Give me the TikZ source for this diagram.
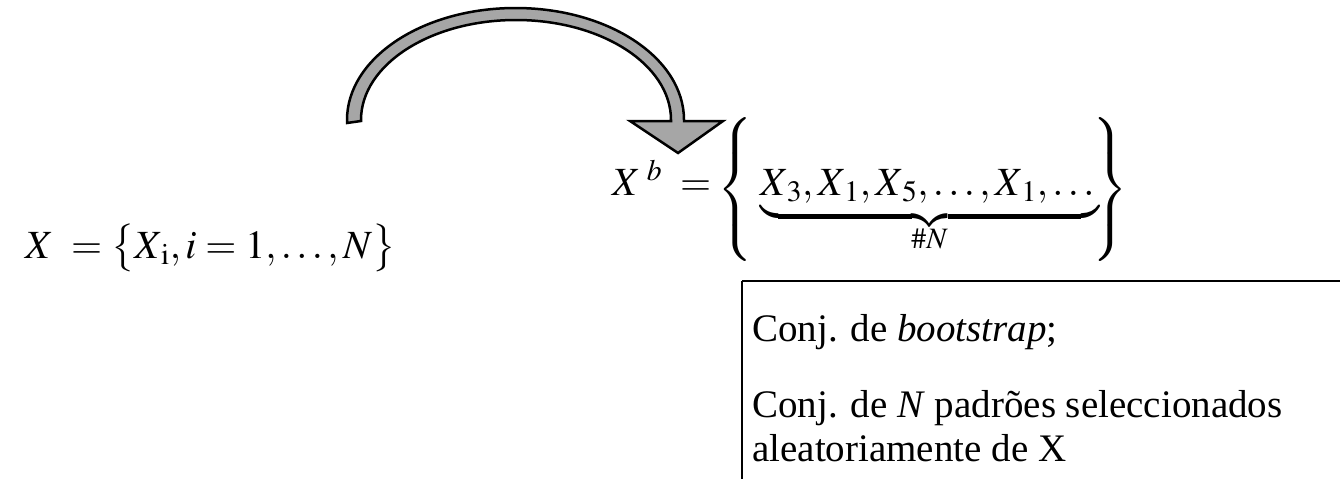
\documentclass[tikz,border=0pt]{standalone}
\usepackage{mathptmx}
\usepackage{fontspec}
\setmainfont{Liberation Serif}
\begin{document}
\begin{tikzpicture}[x=1pt,y=-1pt,
  mathtxt/.style={inner sep=0pt,font=\fontsize{40}{48}\selectfont},
  bodytxt/.style={inner sep=0pt,anchor=base west,font=\fontsize{39}{46}\selectfont},
  bigarrow/.style={fill=black!35,draw=black,line width=2.5pt,line join=miter}]
\useasboundingbox (0,0) rectangle (1340,479);
% curved arrow
\draw[bigarrow] (347,123) -- (347,120)
  arc[start angle=180,end angle=360,x radius=168.5,y radius=112]
  -- (684,121) -- (723,121) -- (678,153) -- (630,121) -- (671,121) -- (671,120)
  arc[start angle=360,end angle=180,x radius=155,y radius=100]
  -- (361,121) -- cycle;
% left formula
\node[mathtxt,anchor=base west] (setX) at (25,258)
  {$X\;=\bigl\{X_{\,\mathrm{i}}, i=1,\ldots,N\bigr\}$};
% right formula
\node[mathtxt,anchor=base west] (Xb) at (612,195) {$X^{\,\,b}\;=$};
\node[mathtxt,anchor=center] (lbr) at (736,190)
  {$\left\{\rule[-64pt]{0pt}{128pt}\right.$};
\node[mathtxt,anchor=base west] (elems) at (760,195)
  {$\underbrace{X_{\,3}, X_{\,1}, X_{\,5},\ldots, X_{\,1},\ldots\rule[-16pt]{0pt}{16pt}}_{\rule{0pt}{18pt}\#N}$};
\node[mathtxt,anchor=center] (rbr) at (1110,190)
  {$\left.\rule[-64pt]{0pt}{128pt}\right\}$};
% description box
\coordinate (boxtl) at (742,281);
\coordinate (boxtr) at (1340,281);
\coordinate (boxbl) at (742,479);
\draw[line width=2.5pt] (boxtl) -- (boxtr);
\draw[line width=2pt] (boxtl) -- (boxbl);
\node[bodytxt] (l1) at (752,341) {Conj. de \textit{bootstrap};};
\node[bodytxt] (l2) at (752,417) {Conj. de \textit{N} padrões seleccionados};
\node[bodytxt] (l3) at (752,461) {aleatoriamente de X};
\end{tikzpicture}
\end{document}
